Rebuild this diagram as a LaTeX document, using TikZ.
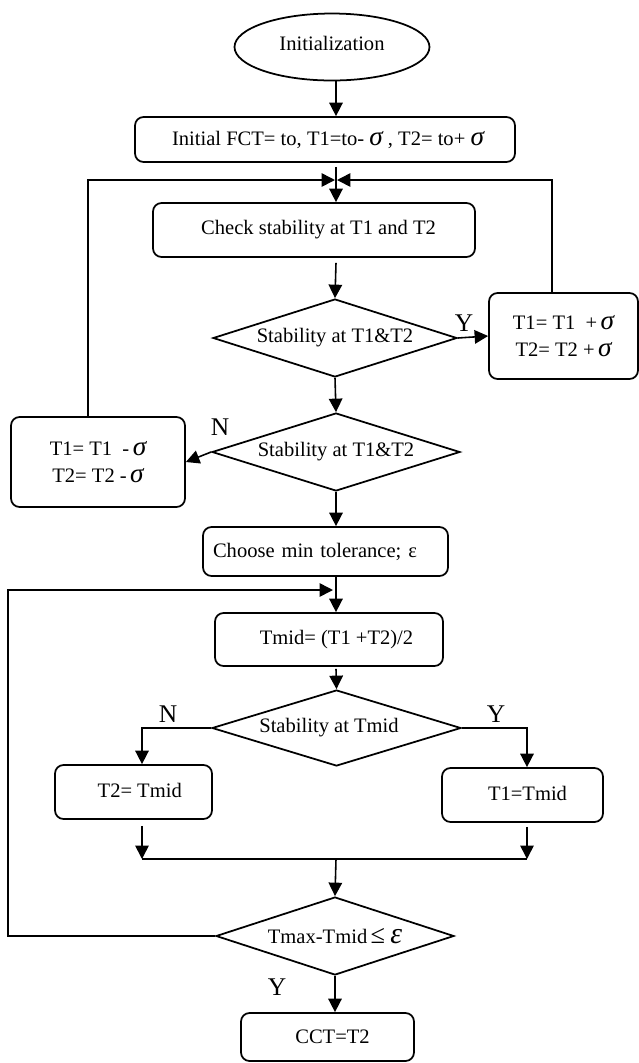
\documentclass[tikz,border=0pt]{standalone}
\usepackage{fontspec}
\setmainfont{Liberation Serif}
\usetikzlibrary{shapes.geometric,arrows.meta}
\newcommand\mysig{{\fontsize{15.5}{15.5}\selectfont\itshape σ}}
\newcommand\myeps{{\fontsize{17}{17}\selectfont\itshape ε}}
\newcommand\myleq{{\fontsize{15}{15}\selectfont ≤}}
\begin{document}
\begin{tikzpicture}[x=0.02cm,y=-0.02cm,
  font=\fontsize{11.7}{14}\selectfont,
  line width=0.9pt,
  box/.style={draw, rounded corners=0.17cm, inner sep=0pt, align=center, line width=1pt},
  twoline/.style={font=\fontsize{11.7}{15.6}\selectfont},
  dec/.style={draw, diamond, aspect=3.1, inner sep=0pt, line width=1pt},
  arr/.style={-{Triangle[length=0.27cm,width=0.27cm]}},
  lab/.style={font=\fontsize{14.5}{14.5}\selectfont, inner sep=0pt}]
\useasboundingbox (0,0) rectangle (639,1063);
% helper coordinates
\coordinate (mx) at (336,0);
\coordinate (lx) at (88,0);
\coordinate (rx) at (552,0);
\coordinate (fx) at (8,0);
\coordinate (merge) at (336,180);
\coordinate (merge2) at (336,590);
\coordinate (jl) at (142,859);
\coordinate (jr) at (527,859);
\coordinate (jm) at (336,859);
% nodes
\node[draw, ellipse, line width=1pt, minimum width=3.9cm, minimum height=1.34cm, inner sep=0pt] (init) at (332,47) {\raisebox{0.15cm}{Initialization}};
\node[box, minimum width=7.6cm, minimum height=0.9cm] (box1) at (325,139.5) {\hspace{0.12cm}Initial FCT= to, T1=to- \mysig\ , T2= to+ \mysig};
\node[box, minimum width=6.44cm, minimum height=1.08cm] (box2) at (314,230) {\hspace{0.18cm}\raisebox{0.06cm}{Check stability at T1 and T2}};
\node[dec, minimum width=4.88cm, minimum height=1.56cm] (d1) at (335,338) {Stability at T1\&T2};
\node[box, twoline, minimum width=2.98cm, minimum height=1.72cm] (rbox) at (563.5,336) {\raisebox{0.12cm}{T1= T1\ \ +\,\mysig}\\[-0.12cm] T2= T2 +\,\mysig};
\node[dec, minimum width=4.96cm, minimum height=1.56cm] (d2) at (336,452) {Stability at T1\&T2};
\node[box, twoline, minimum width=3.48cm, minimum height=1.8cm] (lbox) at (98,462) {\raisebox{0.1cm}{T1= T1\ \ -\,\mysig}\\[-0.1cm] T2= T2 -\,\mysig};
\node[box, minimum width=4.9cm, minimum height=0.98cm, text width=4.5cm, align=left] (choose) at (325.5,551.5) {Choose min tolerance; ε};
\node[box, minimum width=4.56cm, minimum height=1.06cm] (tmid) at (329,639.5) {\hspace{0.3cm}Tmid= (T1 +T2)/2};
\node[dec, minimum width=4.98cm, minimum height=1.52cm] (d3) at (336.5,728) {\hspace{-0.3cm}Stability at Tmid};
\node[box, minimum width=3.14cm, minimum height=1.08cm] (t2box) at (133.5,792) {\hspace{0.25cm}\raisebox{0.05cm}{T2= Tmid}};
\node[box, minimum width=3.22cm, minimum height=1.08cm] (t1box) at (522.5,795) {\hspace{0.2cm}\raisebox{0.05cm}{T1=Tmid}};
\node[dec, minimum width=4.76cm, minimum height=1.56cm] (d4) at (335,936) {Tmax-Tmid\,\myleq\ \myeps};
\node[box, minimum width=3.46cm, minimum height=0.96cm] (cct) at (327.5,1037) {\hspace{0.2cm}CCT=T2};
% labels
\node[lab] (ly1) at (464,323) {Y};
\node[lab] (ln1) at (220,427) {N};
\node[lab] (ln2) at (168,714) {N};
\node[lab] (ly2) at (496,714) {Y};
\node[lab] (ly3) at (277,987) {Y};
% connectors
\draw[arr] (init.south -| mx) -- (box1.north -| mx);
\draw[arr] ([yshift=-0.08cm]box1.south -| mx) -- (box2.north -| mx);
\draw[arr] (lbox.north -| lx) |- ([xshift=-0.02cm]merge);
\draw[arr] (rbox.north -| rx) |- ([xshift=0.02cm]merge);
\draw[arr] ([yshift=-0.1cm]box2.south -| mx) -- (d1.north);
\draw[arr] (d1.east) -- (rbox.west);
\draw[arr] (d1.south) -- (d2.north);
\draw[arr] (d2.west) -- (lbox.east);
\draw[arr] (d2.south) -- (choose.north -| mx);
\draw[arr] (choose.south -| mx) -- (tmid.north -| mx);
\draw[arr] ([yshift=-0.04cm]tmid.south -| mx) -- (d3.north);
\draw[arr] (d3.west) -| (t2box.north -| jl);
\draw[arr] (d3.east) -| (t1box.north -| jr);
\draw[arr] ([yshift=-0.12cm]t2box.south -| jl) -- (jl);
\draw[arr] ([yshift=-0.08cm]t1box.south -| jr) -- (jr);
\draw (jl) -- (jr);
\draw[arr] (jm) -- (d4.north);
\draw[arr] (d4.south) -- (cct.north -| d4.south);
\draw[arr] (d4.west) -| (fx |- merge2) -- ([xshift=-0.06cm]merge2);
\end{tikzpicture}
\end{document}
